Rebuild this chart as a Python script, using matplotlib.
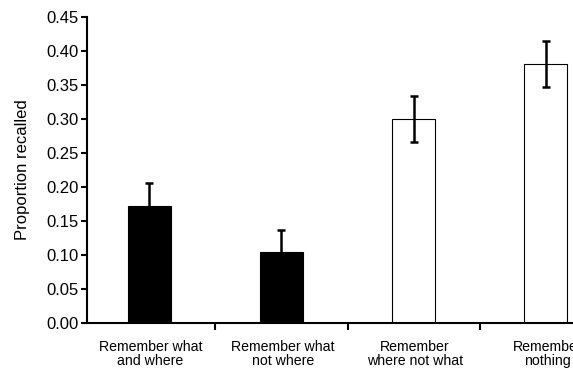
import matplotlib
matplotlib.use('Agg')
import matplotlib.pyplot as plt

categories = ['Remember what\nand where', 'Remember what\nnot where',
              'Remember\nwhere not what', 'Remember\nnothing']
values = [0.172, 0.105, 0.300, 0.381]
errors = [0.034, 0.032, 0.034, 0.034]
colors = ['black', 'black', 'white', 'white']

plt.rcParams['font.family'] = ['Liberation Sans', 'DejaVu Sans']

fig = plt.figure(figsize=(5.73, 3.68), dpi=100)
ax = fig.add_axes([87 / 573, 45 / 368, (612 - 87) / 573, 306 / 368])

x = list(range(len(categories)))
ax.bar(x, values, width=0.325, color=colors, edgecolor='black', linewidth=0.8, zorder=2)
ax.errorbar(x, values, yerr=errors, fmt='none', ecolor='black', elinewidth=1.8,
            capsize=3, capthick=1.8, zorder=3)

ax.set_xlim(-0.47, 3.5)
ax.set_ylim(0, 0.45)
ax.set_yticks([i * 0.05 for i in range(10)])
ax.set_yticklabels(['%.2f' % (i * 0.05) for i in range(10)], fontsize=12)

ax.set_xticks([0.5, 1.5, 2.5])
ax.set_xticklabels([])
ax.tick_params(axis='x', length=5, width=1.5, direction='out')
ax.tick_params(axis='y', length=4, width=1.5, direction='out', pad=2)
for i, c in enumerate(categories):
    ax.annotate(c, xy=(i, 0), xycoords='data', xytext=(1, -12.5), textcoords='offset points',
                ha='center', va='top', fontsize=10.2, linespacing=1.0)

ax.spines['top'].set_visible(False)
ax.spines['right'].set_visible(False)
ax.spines['left'].set_linewidth(1.5)
ax.spines['bottom'].set_linewidth(1.5)
ax.set_ylabel('Proportion recalled', fontsize=12, labelpad=12)

fig.savefig('out.png', dpi=100)
